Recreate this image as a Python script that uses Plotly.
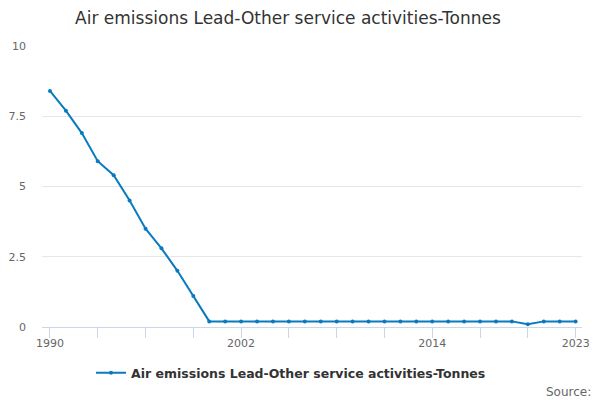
import plotly.graph_objects as go

years = list(range(1990, 2024))
values = [8.4, 7.7, 6.9, 5.9, 5.4, 4.5, 3.5, 2.8, 2.0, 1.1,
          0.2, 0.2, 0.2, 0.2, 0.2, 0.2, 0.2, 0.2, 0.2, 0.2,
          0.2, 0.2, 0.2, 0.2, 0.2, 0.2, 0.2, 0.2, 0.2, 0.2,
          0.1, 0.2, 0.2, 0.2]
tick_years = list(range(1990, 2024, 3))
label_years = [1990, 2002, 2014, 2023]
y_ticks = [0, 2.5, 5, 7.5, 10]
y_labels = ["0", "2.5", "5", "7.5", "10"]

series_name = "Air emissions Lead-Other service activities-Tonnes"
font = "DejaVu Sans"
blue = "#0a7abf"

fig = go.Figure()
fig.add_trace(go.Scatter(
    x=years, y=values, mode="lines+markers", name="<b>" + series_name + "</b>",
    line=dict(color=blue, width=2),
    marker=dict(color=blue, size=4),
    cliponaxis=False,
))

fig.update_layout(
    width=600, height=400,
    paper_bgcolor="white", plot_bgcolor="white",
    margin=dict(l=42, r=18, t=46, b=73, autoexpand=False),
    font=dict(family=font, color="#666666", size=11),
    title=dict(text="Air emissions Lead-Other service activities-Tonnes",
               x=0.48, xanchor="center", y=0.955, yanchor="middle",
               font=dict(size=17, color="#333333", family=font)),
    showlegend=True,
    legend=dict(orientation="h", xref="container", x=0.485, xanchor="center",
                yref="container", y=0.067, yanchor="middle",
                font=dict(size=12.5, color="#333333", family=font),
                itemwidth=30),
    xaxis=dict(range=[1989.5, 2023.4], tickvals=label_years,
               ticktext=[str(v) for v in label_years],
               ticks="outside", ticklen=0, tickcolor="#ccd6eb",
               ticklabelstandoff=6,
               minor=dict(tickvals=tick_years, ticks="outside", ticklen=10,
                          tickcolor="#ccd6eb", tickwidth=1, showgrid=False),
               showline=True, linecolor="#ccd6eb", linewidth=1,
               showgrid=False, zeroline=False, automargin=False,
               tickfont=dict(size=11, color="#666666")),
    yaxis=dict(range=[0, 10], tickvals=y_ticks, ticktext=y_labels,
               showgrid=True, gridcolor="#e6e6e6", zeroline=False,
               ticklabelstandoff=15, automargin=False,
               tickfont=dict(size=11, color="#666666")),
    annotations=[dict(text="Source:", xref="paper", yref="paper",
                      x=1.02, y=-0.23, xanchor="right", yanchor="middle",
                      showarrow=False, font=dict(size=12, color="#666666", family=font))],
)

# drop the page's default body margin so the figure sits at the window corner
fig.write_html("out.html", config={"displayModeBar": False},
               post_script="document.body.style.margin='0';")
